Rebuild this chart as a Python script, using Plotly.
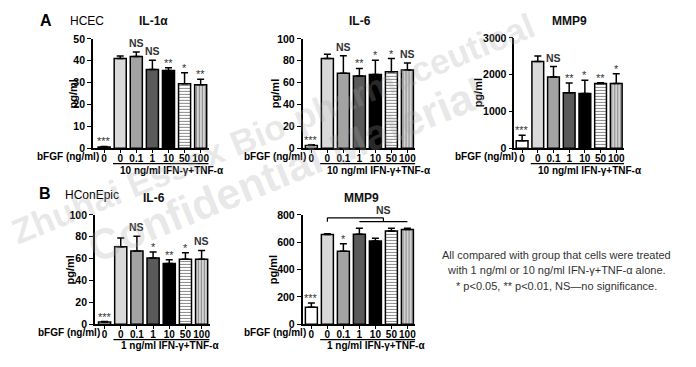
import plotly.graph_objects as go

W, H = 696, 367
FONT = "Arial, Liberation Sans, sans-serif"

# ---------------- data ----------------
doses = ["0", "0", "0.1", "1", "10", "50", "100"]

hcec_il1a = [0.5, 41, 42, 36, 35.5, 29.5, 29]
hcec_il1a_sd = [0.3, 1.2, 2.0, 4.2, 1.3, 5.0, 2.5]
hcec_il1a_sig = ["***", "", "NS", "NS", "**", "*", "**"]

hcec_il6 = [2.5, 82, 68.5, 66, 67.5, 70, 71.5]
hcec_il6_sd = [0.7, 4, 16, 7, 13, 12, 6.5]
hcec_il6_sig = ["***", "", "NS", "**", "*", "*", "NS"]

hcec_mmp9 = [200, 2360, 1940, 1510, 1490, 1757, 1757]
hcec_mmp9_sd = [150, 150, 280, 265, 355, 20, 265]
hcec_mmp9_sig = ["***", "", "NS", "**", "*", "**", "*"]

hcon_il6 = [2, 71, 67, 60.5, 55.5, 59.5, 59.5]
hcon_il6_sd = [0.5, 8, 13.5, 5.5, 3.5, 6, 8]
hcon_il6_sig = ["***", "", "NS", "*", "**", "*", "NS"]

hcon_mmp9 = [125, 657, 535, 658, 610, 683, 693]
hcon_mmp9_sd = [30, 5, 55, 45, 20, 20, 10]
hcon_mmp9_sig = ["***", "", "*", "", "", "", ""]

# ---------------- styles ----------------
# (fill colour, pattern shape, pattern line colour) per dose group
bar_styles = [("#ffffff", "", None), ("#d9d9d9", "", None), ("#a3a3a3", "", None),
              ("#5a5a5a", "", None), ("#000000", "", None),
              ("#ffffff", "-", "#8a8a8a"), ("#d2d2d2", "|", "#8a8a8a")]

def px_x(a):
    return a / W

def px_y(b):
    return 1 - b / H

panels = [
    dict(vals=hcec_il1a, sd=hcec_il1a_sd, sig=hcec_il1a_sig, title="IL-1α",
         xpx=(93, 209), xr=(-0.7, 6.5), ypx=(34, 147), yr=(0, 50), dtick=10,
         group="10 ng/ml IFN-γ+TNF-α", tx=154, ty=16, grpline=163, grptext=170, ylab=73),
    dict(vals=hcec_il6, sd=hcec_il6_sd, sig=hcec_il6_sig, title="IL-6",
         xpx=(303, 416), xr=(-0.55, 6.5), ypx=(34, 147), yr=(0, 100), dtick=20,
         group="10 ng/ml IFN-γ+TNF-α", tx=361, ty=16, grpline=163, grptext=170, ylab=275),
    dict(vals=hcec_mmp9, sd=hcec_mmp9_sd, sig=hcec_mmp9_sig, title="MMP9",
         xpx=(515, 625), xr=(-0.5, 6.5), ypx=(33, 147), yr=(0, 3000), dtick=1000,
         group="10 ng/ml IFN-γ+TNF-α", tx=570, ty=16, grpline=163, grptext=170, ylab=479),
    dict(vals=hcon_il6, sd=hcon_il6_sd, sig=hcon_il6_sig, title="IL-6",
         xpx=(95, 210), xr=(-0.6, 6.5), ypx=(216, 329), yr=(0, 100), dtick=20,
         group="1 ng/ml IFN-γ+TNF-α", tx=154, ty=198, grpline=345, grptext=351, ylab=70),
    dict(vals=hcon_mmp9, sd=hcon_mmp9_sd, sig=hcon_mmp9_sig, title="MMP9",
         xpx=(303, 416), xr=(-0.55, 6.5), ypx=(216, 329), yr=(0, 800), dtick=200,
         group="1 ng/ml IFN-γ+TNF-α", tx=362, ty=198, grpline=345, grptext=351, ylab=273),
]

fig = go.Figure()
annotations = []
shapes = []
layout = {}

for i, p in enumerate(panels, start=1):
    xa = "x" if i == 1 else f"x{i}"
    ya = "y" if i == 1 else f"y{i}"
    xpos = list(range(len(doses)))
    for j, (col, shp, fg) in enumerate(bar_styles):
        marker = dict(color=col, line=dict(color="black", width=1.5))
        if shp:
            marker["pattern"] = dict(shape=shp, fgcolor=fg, bgcolor=col, size=3,
                                     solidity=0.35, fillmode="replace")
        fig.add_trace(go.Bar(
            x=[xpos[j]], y=[p["vals"][j]], xaxis=xa, yaxis=ya, width=0.75,
            marker=marker,
            error_y=dict(type="data", symmetric=False, array=[p["sd"][j]],
                         arrayminus=[0], color="black", thickness=1.5, width=3.5),
            showlegend=False, hoverinfo="skip",
        ))
    layout[f"xaxis{'' if i == 1 else i}"] = dict(
        domain=[px_x(p["xpx"][0]), px_x(p["xpx"][1])], range=list(p["xr"]),
        anchor=ya, tickvals=xpos, ticktext=doses, tickangle=0, showline=True,
        linecolor="black", linewidth=1.5, ticks="outside", ticklen=3, tickwidth=1.2,
        tickcolor="black", ticklabelstandoff=-3,
        tickfont=dict(family=FONT, size=10, color="black", weight="bold"),
        showgrid=False, zeroline=False, fixedrange=True)
    layout[f"yaxis{'' if i == 1 else i}"] = dict(
        domain=[px_y(p["ypx"][1]), px_y(p["ypx"][0])], range=list(p["yr"]),
        anchor=xa, dtick=p["dtick"], showline=True, linecolor="black", linewidth=1.5,
        ticks="outside", ticklen=4, tickwidth=1.2, tickcolor="black",
        tickfont=dict(family=FONT, size=10.5, color="black", weight="bold"),
        showgrid=False, zeroline=False, fixedrange=True)

    # significance marks
    for j, s in enumerate(p["sig"]):
        if not s:
            continue
        top = p["vals"][j] + p["sd"][j]
        if s == "NS":
            annotations.append(dict(x=j, y=top, xref=xa, yref=ya, text="NS", showarrow=False,
                                    yanchor="bottom", yshift=1,
                                    font=dict(family=FONT, size=10.5, color="#333", weight="bold")))
        else:
            annotations.append(dict(x=j, y=top, xref=xa, yref=ya, text=s, showarrow=False,
                                    yanchor="bottom", yshift=-3,
                                    font=dict(family=FONT, size=11, color="#333")))
    # titles
    annotations.append(dict(x=px_x(p["tx"]), y=px_y(p["ty"]), xref="paper", yref="paper",
                            text=p["title"], showarrow=False, xanchor="center", yanchor="middle",
                            font=dict(family=FONT, size=12, color="#111", weight="bold")))
    # y label
    annotations.append(dict(x=px_x(p["ylab"]), y=px_y((p["ypx"][0] + p["ypx"][1]) / 2),
                            xref="paper", yref="paper", text="pg/ml", textangle=-90,
                            showarrow=False, xanchor="center", yanchor="middle",
                            font=dict(family=FONT, size=11, color="black", weight="bold")))
    # bFGF label
    annotations.append(dict(x=0, y=px_y(p["ypx"][1] + 9), xref=xa, yref="paper",
                            text="bFGF (ng/ml)", showarrow=False, xanchor="right", yanchor="middle",
                            xshift=-4, borderpad=0,
                            font=dict(family=FONT, size=10, color="black", weight="bold")))
    # group line + label
    shapes.append(dict(type="line", xref=xa, yref="paper", x0=0.55, x1=p["xr"][1],
                       y0=px_y(p["grpline"]), y1=px_y(p["grpline"]),
                       line=dict(color="black", width=1.2)))
    annotations.append(dict(x=1, y=px_y(p["grptext"]), xref=xa, yref="paper",
                            text=p["group"], showarrow=False, xanchor="left", yanchor="middle",
                            xshift=-2,
                            font=dict(family=FONT, size=10, color="black", weight="bold")))

# bracket in HConEpic MMP9 panel
for (x0, y0, x1, y1) in [(1, 223, 1, 219), (1, 219, 4.5, 219), (4.5, 219, 4.5, 223), (3, 223, 6, 223)]:
    shapes.append(dict(type="line", xref="x5", yref="paper", x0=x0, x1=x1,
                       y0=px_y(y0), y1=px_y(y1), line=dict(color="black", width=1.2)))
annotations.append(dict(x=4.5, y=px_y(219), xref="x5", yref="paper", text="NS", showarrow=False,
                        yanchor="bottom", yshift=0,
                        font=dict(family=FONT, size=10.5, color="#333", weight="bold")))

# panel letters and cell lines
for txt, x, y, sz, wt in [("A", 46, 15, 16, "bold"), ("HCEC", 87, 15, 12, "normal"),
                           ("B", 45, 194, 16, "bold"), ("HConEpic", 92, 195, 12, "normal")]:
    annotations.append(dict(x=px_x(x), y=px_y(y), xref="paper", yref="paper", text=txt,
                            showarrow=False, xanchor="center", yanchor="middle",
                            font=dict(family=FONT, size=sz, color="black", weight=wt)))

# note
note = ["All compared with group that cells were treated",
        "with 1 ng/ml or 10 ng/ml IFN-γ+TNF-α alone.",
        "* p<0.05, ** p<0.01, NS—no significance."]
for line, y in zip(note, [257, 273, 289]):
    annotations.append(dict(x=px_x(557), y=px_y(y), xref="paper", yref="paper", text=line,
                            showarrow=False, xanchor="center", yanchor="middle",
                            font=dict(family=FONT, size=11, color="#333")))

# watermark
for txt, cx, cy, sz in [("Zhuhai Essex Bio-pharmaceutical", 273, 127, 35),
                        ("Confidential Material", 287, 170, 43)]:
    annotations.append(dict(x=px_x(cx), y=px_y(cy), xref="paper", yref="paper", text=txt,
                            showarrow=False, textangle=-22, xanchor="center", yanchor="middle",
                            font=dict(family=FONT, size=sz, color="rgba(165,165,165,0.26)",
                                      weight="bold")))

fig.update_layout(
    width=W, height=H, margin=dict(l=0, r=0, t=0, b=0),
    paper_bgcolor="white", plot_bgcolor="rgba(0,0,0,0)", barmode="overlay",
    annotations=annotations, shapes=shapes, **layout)

fig.write_html("out.html", config={"displayModeBar": False})
